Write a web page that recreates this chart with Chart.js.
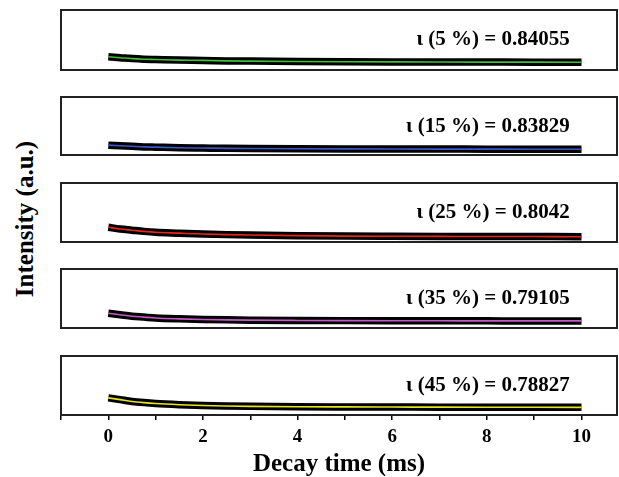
<!DOCTYPE html>
<html>
<head>
<meta charset="utf-8">
<script src="https://cdn.jsdelivr.net/npm/chart.js@4"></script>
<style>
  html, body { margin: 0; padding: 0; background: #fff; }
  #wrap { position: relative; width: 619px; height: 477px; overflow: hidden; }
  #wrap canvas { position: absolute; left: 0; }
  #ylabel {
    position: absolute; left: 25px; top: 219px;
    transform: translate(-50%, -50%) rotate(-90deg);
    font: bold 25px 'Liberation Serif', 'Times New Roman', serif;
    white-space: nowrap; color: #000;
  }
</style>
</head>
<body>
<div id="wrap">
  <div id="ylabel">Intensity (a.u.)</div>
</div>
<script>
/* decay curves — five doping levels, stacked panels */

const TIMES = [0, 0.25, 0.5, 0.75, 1, 1.5, 2, 2.5, 3, 4, 5, 6, 7, 8, 9, 10];

const CURVE_5  = [0.22, 0.205, 0.19, 0.18, 0.175, 0.165, 0.16, 0.152, 0.148, 0.142, 0.138, 0.135, 0.133, 0.132, 0.131, 0.13];
const CURVE_15 = [0.17, 0.16, 0.15, 0.14, 0.135, 0.125, 0.12, 0.115, 0.112, 0.108, 0.105, 0.103, 0.102, 0.101, 0.1, 0.1];
const CURVE_25 = [0.25, 0.22, 0.2, 0.18, 0.165, 0.15, 0.135, 0.125, 0.118, 0.108, 0.1, 0.097, 0.095, 0.093, 0.092, 0.09];
const CURVE_35 = [0.25, 0.225, 0.2, 0.185, 0.17, 0.155, 0.145, 0.138, 0.133, 0.128, 0.125, 0.123, 0.122, 0.121, 0.12, 0.12];
const CURVE_45 = [0.29, 0.26, 0.23, 0.21, 0.195, 0.175, 0.16, 0.152, 0.147, 0.14, 0.137, 0.135, 0.133, 0.132, 0.131, 0.13];

const LABELS = ['ι (5 %) = 0.84055', 'ι (15 %) = 0.83829', 'ι (25 %) = 0.8042', 'ι (35 %) = 0.79105', 'ι (45 %) = 0.78827'];
const X_TICKS = [0, 2, 4, 6, 8, 10];
const X_MINOR = [-1, 1, 3, 5, 7, 9];

const curves = [CURVE_5, CURVE_15, CURVE_25, CURVE_35, CURVE_45];
const colors = ['#3fbf3a', '#3d55c8', '#e8261e', '#c45ac4', '#e6e61a'];
// panel top / bottom in page px
const panels = [[10, 70], [97, 155], [183, 242], [269, 328], [356, 415]];

const SERIF = "'Liberation Serif', 'Times New Roman', serif";

/* ── BOX + LABEL PLUGIN ─────────────────────────────────────── */
function panelPlugin(label) {
  return {
    id: 'panel-box',
    afterDraw(chart) {
      const { ctx, chartArea: a, scales: { x } } = chart;
      ctx.save();
      ctx.strokeStyle = '#222';
      ctx.lineWidth = 2;
      ctx.strokeRect(a.left, a.top, a.right - a.left, a.bottom - a.top);
      ctx.fillStyle = '#000';
      ctx.font = 'bold 21px ' + SERIF;
      ctx.textAlign = 'right';
      ctx.textBaseline = 'middle';
      ctx.fillText(label, x.getPixelForValue(9.75), a.top + 30);
      ctx.restore();
    }
  };
}

/* ── BUILD PANELS ───────────────────────────────────────────── */
const wrap = document.getElementById('wrap');

panels.forEach(([top, bottom], i) => {
  const last = i === panels.length - 1;
  const cTop = top - 3;
  const cHeight = last ? 477 - cTop : (bottom - top) + 6;

  const canvas = document.createElement('canvas');
  canvas.style.top = cTop + 'px';
  canvas.style.width = '619px';
  canvas.style.height = cHeight + 'px';
  canvas.width = 619;
  canvas.height = cHeight;
  wrap.appendChild(canvas);

  const pts = TIMES.map((t, k) => ({ x: t, y: curves[i][k] }));

  new Chart(canvas.getContext('2d'), {
    type: 'line',
    data: {
      datasets: [
        {
          data: pts, borderColor: colors[i], borderWidth: 1.6,
          pointRadius: 0, cubicInterpolationMode: 'monotone'
        },
        {
          data: pts, borderColor: '#000', borderWidth: 7.5,
          pointRadius: 0, cubicInterpolationMode: 'monotone', borderCapStyle: 'butt'
        }
      ]
    },
    options: {
      responsive: false,
      animation: false,
      layout: { padding: { left: 61, right: 2, top: 3, bottom: last ? 0 : 3 } },
      plugins: { legend: { display: false }, tooltip: { enabled: false } },
      scales: {
        x: {
          type: 'linear',
          min: -1,
          max: 10.75,
          display: last,
          border: { display: false },
          grid: {
            drawOnChartArea: false, drawTicks: true, tickLength: 5, color: '#000', lineWidth: 1.5
          },
          ticks: {
            autoSkip: false,
            maxRotation: 0,
            padding: 6,
            color: '#000',
            font: { family: SERIF, size: 19, weight: 'bold' },
            callback: v => X_TICKS.includes(v) ? String(v) : ''
          },
          afterBuildTicks: s => {
            s.ticks = [...X_MINOR, ...X_TICKS].sort((a, b) => a - b).map(v => ({ value: v }));
          },
          title: {
            display: true,
            text: 'Decay time (ms)',
            color: '#000',
            font: { family: SERIF, size: 25, weight: 'bold', lineHeight: 1 },
            padding: { top: 6, bottom: 0 }
          },
          afterFit: s => {
            if (last) s.height = cHeight - 3 - (bottom - top);
            s.paddingLeft = 0;
            s.paddingRight = 0;
          }
        },
        y: { display: false, min: 0, max: 1 }
      }
    },
    plugins: [panelPlugin(LABELS[i])]
  });
});
</script>
</body>
</html>
